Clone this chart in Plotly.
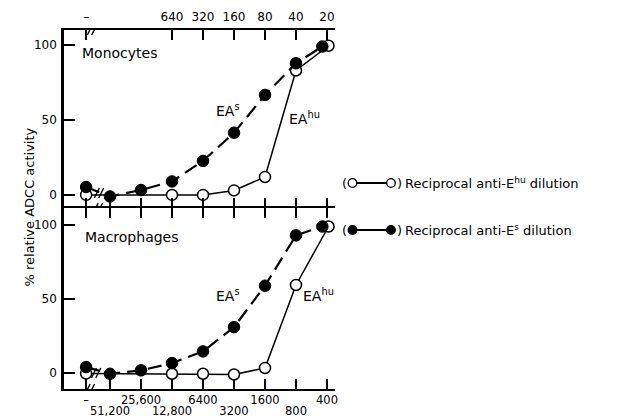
import plotly.graph_objects as go

# ---------------- data ----------------
ctrl_label = "–"
steps = [1, 2, 3, 4, 5, 6, 7, 8]                      # dilution steps (bottom axis)
anti_es_dilutions = ["51,200", "25,600", "12,800", "6400", "3200", "1600", "800", "400"]
ehu_steps = [3, 4, 5, 6, 7, 8]                         # steps that carry anti-E^hu dilutions
anti_ehu_dilutions = ["640", "320", "160", "80", "40", "20"]

# values: control first, then the steps
mono_es = [5.3, -1, 3.3, 9, 22.7, 41.5, 66.7, 87.8, 99]
mono_ehu = [0, 0, 0, 3, 12, 83, 99.5]
macro_es = [4, -0.5, 1.8, 6.7, 14.6, 31, 59, 93, 99]
macro_ehu = [-0.3, -0.5, -0.5, -1, 3.4, 59.5, 99]

# ---------------- layout constants ----------------
W, H = 622, 419
L, R, T, B = 64, 335, 30, 389
SPLIT = 208
CTRL_X = 0.23
XR = [-0.484, 8.258]
YR_TOP = [-8.7, 110]
YR_BOT = [-10.8, 111.5]
LAST_SHIFT_FILLED = -0.15
LAST_SHIFT_OPEN = 0.05
FONT = "DejaVu Sans"


def xp(px):
    return (px - L) / (R - L)


def yp(py):
    return (B - py) / (B - T)


split_frac = yp(SPLIT)

es_x = [CTRL_X] + steps[:-1] + [steps[-1] + LAST_SHIFT_FILLED]
ehu_x = [CTRL_X] + ehu_steps[:-1] + [ehu_steps[-1] + LAST_SHIFT_OPEN]

fig = go.Figure()

open_marker = dict(symbol="circle", size=11, color="white", line=dict(color="black", width=1.5))
filled_marker = dict(symbol="circle", size=11.5, color="black", line=dict(color="black", width=1))

for xa, ya, es, ehu in (("x", "y", mono_es, mono_ehu), ("x2", "y2", macro_es, macro_ehu)):
    fig.add_trace(go.Scatter(x=ehu_x, y=ehu, xaxis=xa, yaxis=ya, mode="lines+markers",
                             line=dict(color="black", width=1.5), marker=open_marker,
                             showlegend=False, cliponaxis=False, hoverinfo="skip"))
    fig.add_trace(go.Scatter(x=es_x, y=es, xaxis=xa, yaxis=ya, mode="lines+markers",
                             line=dict(color="black", width=2.2, dash="14px,7px"),
                             marker=filled_marker, showlegend=False, cliponaxis=False,
                             hoverinfo="skip"))

# invisible traces so overlay axes are drawn
for xa, ya in (("x3", "y"), ("x4", "y2"), ("x5", "y2")):
    fig.add_trace(go.Scatter(x=[CTRL_X], y=[None], xaxis=xa, yaxis=ya, showlegend=False,
                             hoverinfo="skip", mode="markers", marker=dict(opacity=0)))

all_ticks = [CTRL_X] + steps
tick_font = dict(family=FONT, size=12, color="black")
row_font = dict(family=FONT, size=11.5, color="black")
axis_common = dict(range=XR, showgrid=False, zeroline=False, automargin=False,
                   linecolor="black", linewidth=2, ticks="inside", ticklen=10,
                   tickwidth=1.5, tickcolor="black", tickfont=tick_font)

even_vals = [CTRL_X] + [s for i, s in enumerate(steps) if i % 2 == 1]
even_text = [ctrl_label] + [t for i, t in enumerate(anti_es_dilutions) if i % 2 == 1]
odd_vals = [s for i, s in enumerate(steps) if i % 2 == 0]
odd_text = [t for i, t in enumerate(anti_es_dilutions) if i % 2 == 0]

label_axis = dict(range=XR, anchor="y2", overlaying="x2", side="bottom", showline=False,
                  automargin=False, showgrid=False, zeroline=False, ticks="", tickfont=row_font)

yaxis_common = dict(tickvals=[0, 50, 100], showgrid=False, zeroline=False, showline=True,
                    automargin=False, linecolor="black", linewidth=2.5, ticks="inside",
                    ticklen=11, tickwidth=1.5, tickcolor="black", ticklabelstandoff=2,
                    tickfont=tick_font)

fig.update_layout(
    width=W, height=H,
    margin=dict(l=L, r=W - R, t=T, b=H - B, pad=0, autoexpand=False),
    paper_bgcolor="white", plot_bgcolor="white",
    font=dict(family=FONT, color="black"),
    xaxis=dict(**axis_common, anchor="y", showline=False, tickvals=all_ticks,
               showticklabels=False),
    xaxis3=dict(**axis_common, anchor="y", overlaying="x", side="top", showline=True,
                tickvals=[CTRL_X] + ehu_steps, ticktext=[ctrl_label] + anti_ehu_dilutions,
                ticklabelstandoff=2),
    xaxis2=dict(**axis_common, anchor="y2", showline=True, mirror="ticks",
                tickvals=all_ticks, showticklabels=False),
    xaxis5=dict(**label_axis, tickvals=even_vals, ticktext=even_text, ticklabelstandoff=2),
    xaxis4=dict(**label_axis, tickvals=odd_vals, ticktext=odd_text, ticklabelstandoff=13),
    yaxis=dict(**yaxis_common, domain=[split_frac, 1], range=YR_TOP, anchor="x"),
    yaxis2=dict(**yaxis_common, domain=[0, split_frac], range=YR_BOT, anchor="x2"),
)

ann = []
ann.append(dict(text="Monocytes", x=0.03, y=94.7, xref="x", yref="y", xanchor="left",
                yanchor="middle", showarrow=False, font=dict(size=14)))
ann.append(dict(text="Macrophages", x=0.13, y=92, xref="x2", yref="y2", xanchor="left",
                yanchor="middle", showarrow=False, font=dict(size=14)))
ann.append(dict(text="EA<sup>s</sup>", x=4.8, y=56.7, xref="x", yref="y", showarrow=False,
                font=dict(size=14)))
ann.append(dict(text="EA<sup>hu</sup>", x=7.29, y=51.3, xref="x", yref="y", showarrow=False,
                font=dict(size=14)))
ann.append(dict(text="EA<sup>s</sup>", x=4.8, y=52.7, xref="x2", yref="y2", showarrow=False,
                font=dict(size=14)))
ann.append(dict(text="EA<sup>hu</sup>", x=7.71, y=52.7, xref="x2", yref="y2", showarrow=False,
                font=dict(size=14)))
ann.append(dict(text="% relative ADCC activity", x=xp(19), y=yp(207), xref="paper",
                yref="paper", textangle=-90, showarrow=False, font=dict(size=13)))

legend_rows = [
    (183, "Reciprocal anti-E<sup>hu</sup> dilution", "open"),
    (230, "Reciprocal anti-E<sup>s</sup> dilution", "filled"),
]
shapes = []
for py, label, kind in legend_rows:
    ann.append(dict(text="(", x=xp(348), y=yp(py), xref="paper", yref="paper",
                    xanchor="right", showarrow=False, borderpad=0, font=dict(size=13)))
    ann.append(dict(text=")", x=xp(396), y=yp(py), xref="paper", yref="paper",
                    xanchor="left", showarrow=False, borderpad=0, font=dict(size=13)))
    ann.append(dict(text=label, x=xp(404), y=yp(py), xref="paper", yref="paper",
                    xanchor="left", showarrow=False, borderpad=0, font=dict(size=13)))
    shapes.append(dict(type="line", xref="paper", yref="paper", x0=xp(352), x1=xp(391),
                       y0=yp(py), y1=yp(py), line=dict(color="black", width=1.8)))
    r = 4.3
    for cx in (352.5, 391):
        shapes.append(dict(type="circle", xref="paper", yref="paper",
                           x0=xp(cx - r), x1=xp(cx + r), y0=yp(py + r), y1=yp(py - r),
                           fillcolor="white" if kind == "open" else "black",
                           line=dict(color="black", width=1.3)))

# axis break marks "//"
breaks = [
    ("x", "y", 0.42, YR_TOP[1]),
    ("x", "y", 0.645, 1.3),
    ("x", "y", 0.61, YR_TOP[0]),
    ("x2", "y2", 0.55, 0),
    ("x2", "y2", 0.35, YR_BOT[0]),
]
for xr, yr, bx, by in breaks:
    for dx in (-2.2, 2.2):
        shapes.append(dict(type="line", xref=xr, yref=yr, xsizemode="pixel",
                           ysizemode="pixel", xanchor=bx, yanchor=by,
                           x0=dx - 2.5, x1=dx + 2.5, y0=-5, y1=5,
                           line=dict(color="black", width=1.4)))

fig.update_layout(annotations=ann, shapes=shapes)
fig.write_html("out.html", config={"responsive": False, "displayModeBar": False},
               post_script="document.body.style.margin='0';document.body.style.padding='0';")
